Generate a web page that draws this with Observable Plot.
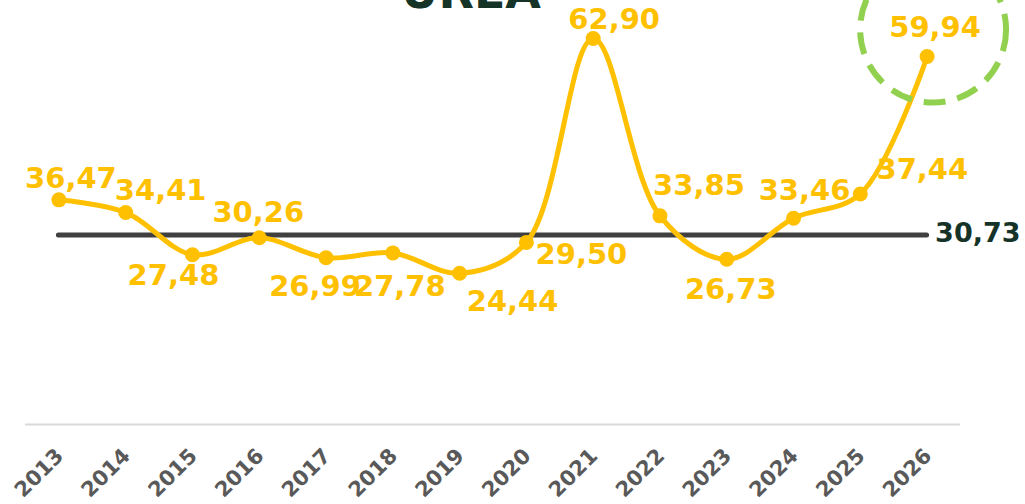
<!DOCTYPE html>
<html><head><meta charset="utf-8">
<script src="https://cdn.jsdelivr.net/npm/d3@7"></script>
<script src="https://cdn.jsdelivr.net/npm/@observablehq/plot@0.6"></script>
<style>body{margin:0;background:#fff;overflow:hidden}</style>
</head><body><div id="chart"></div>
<script>
const title = "UREA";
const years = ["2013","2014","2015","2016","2017","2018","2019","2020","2021","2022","2023","2024","2025","2026"];
const prices = [36.47, 34.41, 27.48, 30.26, 26.99, 27.78, 24.44, 29.50, 62.90, 33.85, 26.73, 33.46, 37.44, 59.94];
const average = 30.73;

// label offsets (styling): [dx, dy] from each point
const labelOffsets = [[12,-12],[35,-12],[-19,30],[-1,-16],[-11,38],[7,43],[53,38],[55,22],[21,-10],[39,-21],[4,40],[11,-18],[62,-15],[8,-20]];

const fmt = v => v.toFixed(2).replace(".", ",");
const data = years.map((year, i) => ({year, price: prices[i]}));
const FONT = "DejaVu Sans";
const YELLOW = "#FFC000";

const labelMarks = data.map((d, i) => Plot.text([d], {
  x: "year", y: "price", text: dd => fmt(dd.price),
  dx: labelOffsets[i][0], dy: labelOffsets[i][1], lineAnchor: "bottom",
  fill: YELLOW, fontSize: 29, fontWeight: "bold"
}));

const chart = Plot.plot({
  width: 1025, height: 504,
  marginLeft: 25, marginRight: 65, marginTop: 38, marginBottom: 82,
  style: {fontFamily: FONT, background: "#fff", overflow: "visible"},
  x: {type: "point", domain: years, padding: 0.5, round: false, label: null},
  y: {domain: [0, 62.9], axis: null},
  marks: [
    Plot.ruleY([0], {stroke: "#d9d9d9", strokeWidth: 2, dy: 2}),
    Plot.axisX({tickRotate: -45, tickSize: 0, tickPadding: 30, dx: 1, fontSize: 21, fontWeight: "bold", fill: "#595959", label: null}),
    Plot.ruleY([average], {x1: () => years[0], x2: () => years[years.length - 1], stroke: "#404040", strokeWidth: 5, strokeLinecap: "round"}),
    Plot.text([average], {x: () => years[years.length - 1], y: d => d, text: fmt, textAnchor: "start", dx: 8, dy: 7, lineAnchor: "bottom", fill: "#163328", fontSize: 27, fontWeight: "bold"}),
    Plot.line(data, {x: "year", y: "price", curve: "catmull-rom", stroke: YELLOW, strokeWidth: 5}),
    Plot.dot(data, {x: "year", y: "price", r: 7.5, fill: YELLOW}),
    ...labelMarks,
    Plot.dot([data[data.length - 1]], {x: "year", y: "price", r: 73, dx: 6, dy: -27, fill: "none", stroke: "#92D050", strokeWidth: 6, strokeDasharray: "22,12"}),
    Plot.text([title], {frameAnchor: "top", dx: -22, dy: -31, lineAnchor: "bottom", fontSize: 46, fontWeight: "bold", fill: "#163328"})
  ]
});
document.getElementById("chart").appendChild(chart);
</script>
</body></html>
